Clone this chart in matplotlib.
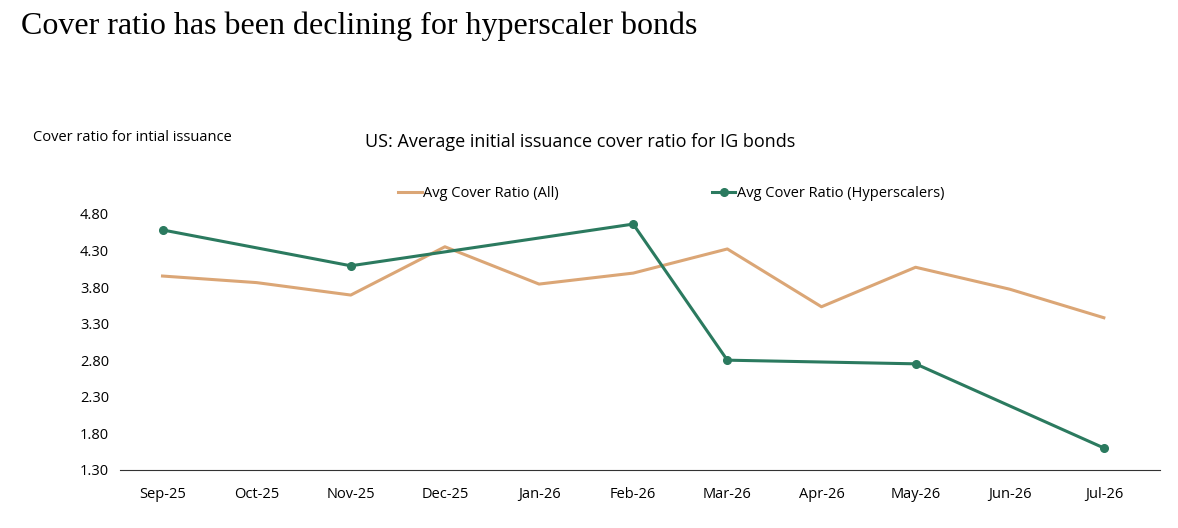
import matplotlib.pyplot as plt

months = ['Sep-25', 'Oct-25', 'Nov-25', 'Dec-25', 'Jan-26', 'Feb-26',
          'Mar-26', 'Apr-26', 'May-26', 'Jun-26', 'Jul-26']
avg_all = [3.95, 3.86, 3.69, 4.35, 3.84, 3.99, 4.32, 3.53, 4.07, 3.77, 3.38]
hyper_months = ['Sep-25', 'Nov-25', 'Feb-26', 'Mar-26', 'May-26', 'Jul-26']
avg_hyper = [4.58, 4.09, 4.66, 2.80, 2.75, 1.60]
yticks = [1.30, 1.80, 2.30, 2.80, 3.30, 3.80, 4.30, 4.80]

ORANGE = '#DBA676'
GREEN = '#2B7A5F'

plt.rcParams['font.family'] = ['Open Sans', 'DejaVu Sans']

fig = plt.figure(figsize=(11.78, 5.28), dpi=100)
ax = fig.add_axes([0.102, 0.11, 0.883, 0.485])

x_all = list(range(len(months)))
x_hyper = [months.index(m) for m in hyper_months]

ax.plot(x_all, avg_all, color=ORANGE, lw=2.2, label='Avg Cover Ratio (All)')
ax.plot(x_hyper, avg_hyper, color=GREEN, lw=2.2, marker='o', markersize=5.5,
        label='Avg Cover Ratio (Hyperscalers)')

ax.set_xlim(-0.45, len(months) - 1 + 0.6)
ax.set_ylim(1.30, 4.80)
ax.set_yticks(yticks)
ax.set_yticklabels([f'{v:.2f}' for v in yticks], fontsize=10.5)
ax.set_xticks(x_all)
ax.set_xticklabels(months, fontsize=10.5)
for s in ['top', 'right', 'left']:
    ax.spines[s].set_visible(False)
ax.spines['bottom'].set_color('#333333')
ax.tick_params(axis='both', length=0, pad=12)
ax.tick_params(axis='y', pad=8)

ax.legend(loc='lower center', bbox_to_anchor=(0.53, 1.0), ncol=2, frameon=False,
          fontsize=10.5, handlelength=1.6, handletextpad=0.1, columnspacing=10.5)

fig.text(0.018, 0.95, 'Cover ratio has been declining for hyperscaler bonds',
         family='Liberation Serif', fontsize=23, va='center')
fig.text(0.028, 0.74, 'Cover ratio for intial issuance', fontsize=10.5, va='center')
fig.text(0.31, 0.732, 'US: Average initial issuance cover ratio for IG bonds',
         fontsize=13, va='center')

fig.savefig('out.png', dpi=100)
